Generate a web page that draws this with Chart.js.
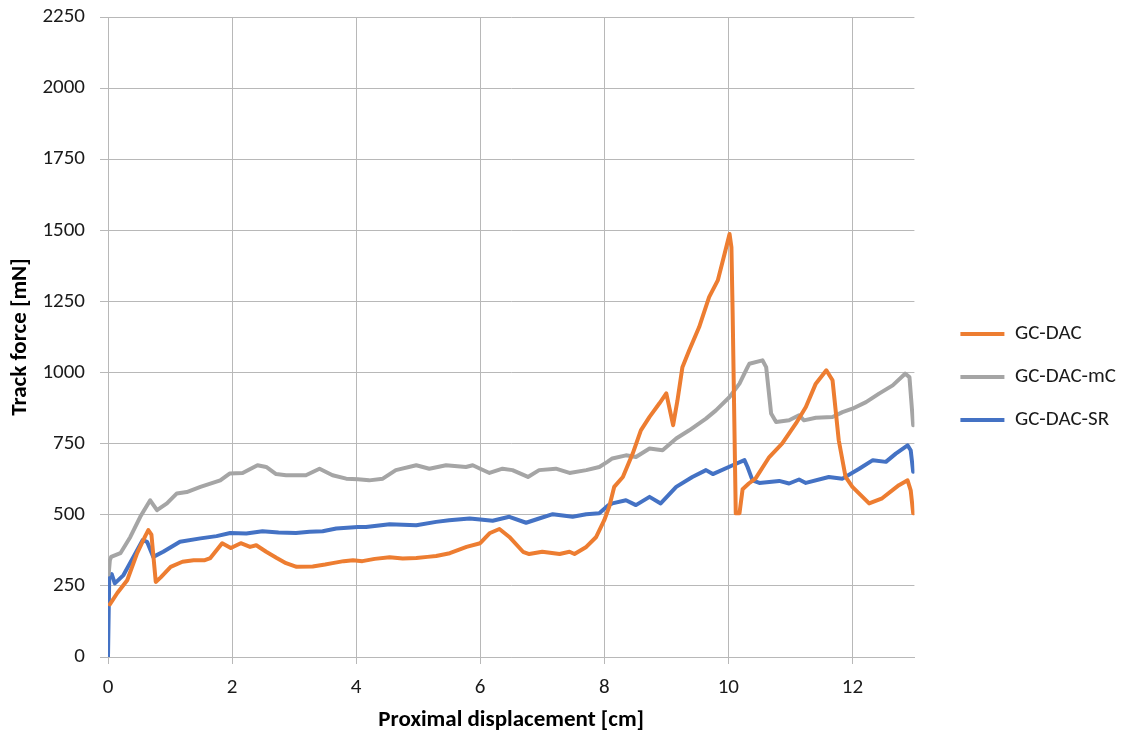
<!DOCTYPE html>
<html>
<head>
<meta charset="utf-8">
<script src="https://cdn.jsdelivr.net/npm/chart.js@4"></script>
<style>
  html, body { margin: 0; padding: 0; background: #fff; }
  #wrap { width: 1128px; height: 737px; }
</style>
</head>
<body>
<div id="wrap"><canvas id="chartLine"></canvas></div>
<script>
// displacement [cm] / force [mN]
const dacX = [0.03, 0.15, 0.31, 0.47, 0.6, 0.65, 0.7, 0.77, 0.85, 1.01, 1.2, 1.38, 1.55, 1.65, 1.84, 1.98, 2.14, 2.29, 2.39, 2.55, 2.72, 2.87, 3.04, 3.3, 3.5, 3.62, 3.8, 3.95, 4.1, 4.3, 4.54, 4.75, 4.97, 5.15, 5.29, 5.51, 5.78, 6.0, 6.15, 6.31, 6.47, 6.69, 6.79, 7.0, 7.28, 7.44, 7.52, 7.71, 7.87, 8.0, 8.08, 8.16, 8.3, 8.46, 8.59, 8.73, 8.89, 9.0, 9.11, 9.18, 9.26, 9.37, 9.53, 9.69, 9.83, 9.94, 10.02, 10.05, 10.07, 10.12, 10.18, 10.23, 10.33, 10.44, 10.66, 10.87, 11.09, 11.25, 11.41, 11.58, 11.68, 11.78, 11.89, 12.0, 12.27, 12.48, 12.75, 12.89, 12.94, 12.98];
const dacY = [185, 225, 270, 365, 425, 446, 430, 264, 280, 317, 335, 340, 340, 348, 400, 383, 400, 387, 393, 370, 348, 330, 317, 318, 325, 330, 337, 340, 337, 345, 351, 346, 348, 352, 355, 365, 387, 400, 435, 450, 422, 370, 362, 370, 362, 370, 362, 387, 422, 481, 528, 598, 633, 716, 797, 844, 892, 927, 815, 902, 1019, 1078, 1160, 1265, 1324, 1418, 1487, 1440, 1207, 505, 505, 590, 610, 628, 703, 751, 821, 879, 961, 1008, 973, 762, 633, 598, 540, 558, 604, 621, 586, 505];

const mcX = [0.01, 0.03, 0.05, 0.2, 0.36, 0.52, 0.68, 0.79, 0.95, 1.11, 1.27, 1.49, 1.81, 1.96, 2.17, 2.41, 2.55, 2.71, 2.87, 3.19, 3.41, 3.62, 3.84, 4.03, 4.21, 4.43, 4.64, 4.97, 5.18, 5.45, 5.77, 5.88, 6.0, 6.15, 6.36, 6.52, 6.77, 6.95, 7.22, 7.44, 7.71, 7.92, 8.05, 8.13, 8.35, 8.51, 8.73, 8.94, 9.16, 9.37, 9.64, 9.8, 10.02, 10.18, 10.31, 10.34, 10.55, 10.61, 10.69, 10.77, 10.98, 11.14, 11.22, 11.41, 11.68, 11.84, 12.0, 12.22, 12.43, 12.65, 12.85, 12.92, 12.98];
const mcY = [290, 340, 352, 365, 422, 493, 551, 516, 540, 575, 580, 598, 621, 645, 647, 674, 668, 643, 639, 639, 662, 639, 627, 625, 621, 627, 657, 674, 662, 674, 668, 674, 662, 647, 662, 657, 633, 657, 662, 647, 657, 668, 686, 698, 709, 703, 733, 727, 768, 797, 838, 867, 914, 961, 1019, 1031, 1043, 1019, 856, 826, 832, 850, 832, 841, 844, 861, 873, 896, 926, 955, 996, 984, 815];

const srX = [0, 0.02, 0.06, 0.11, 0.25, 0.41, 0.56, 0.63, 0.73, 0.89, 1.16, 1.49, 1.75, 1.97, 2.23, 2.49, 2.75, 3.03, 3.25, 3.46, 3.68, 4.03, 4.16, 4.54, 4.97, 5.29, 5.5, 5.83, 6.0, 6.2, 6.47, 6.74, 6.95, 7.17, 7.49, 7.71, 7.92, 8.07, 8.13, 8.35, 8.51, 8.73, 8.91, 9.16, 9.42, 9.64, 9.75, 10.07, 10.26, 10.31, 10.39, 10.5, 10.82, 10.98, 11.14, 11.25, 11.62, 11.84, 12.11, 12.33, 12.54, 12.7, 12.89, 12.94, 12.98];
const srY = [0, 282, 291, 259, 288, 352, 411, 405, 352, 370, 405, 417, 425, 436, 434, 442, 438, 436, 440, 442, 452, 457, 457, 467, 463, 475, 481, 487, 483, 479, 493, 472, 487, 502, 493, 502, 505, 534, 540, 551, 534, 563, 540, 598, 633, 657, 643, 674, 692, 668, 621, 612, 619, 610, 624, 612, 633, 627, 662, 692, 686, 715, 744, 727, 651];

const seriesNames = ["GC-DAC", "GC-DAC-mC", "GC-DAC-SR"];

const FONT = 'Carlito, Lato, sans-serif';

function toPoints(xs, ys) {
  return xs.map((x, i) => ({ x: x, y: ys[i] }));
}

function lineSet(label, xs, ys, color) {
  return {
    label: label,
    data: toPoints(xs, ys),
    borderColor: color,
    backgroundColor: color,
    borderWidth: 4,
    pointRadius: 0,
    tension: 0,
    borderJoinStyle: "round",
    borderCapStyle: "round",
  };
}

const data = {
  datasets: [
    lineSet(seriesNames[0], dacX, dacY, "#ED7D31"),
    lineSet(seriesNames[1], mcX, mcY, "#A5A5A5"),
    lineSet(seriesNames[2], srX, srY, "#4472C4"),
  ],
};

const gridColor = "#b8b8b8";

const configLineChart = {
  type: "line",
  data,
  options: {
    responsive: true,
    maintainAspectRatio: false,
    animation: false,
    layout: { padding: { top: 17, right: 2, bottom: 0, left: 0 } },
    plugins: {
      tooltip: { enabled: false },
      legend: {
        position: "right",
        align: "center",
        labels: {
          usePointStyle: true,
          pointStyle: "line",
          pointStyleWidth: 44,
          padding: 22,
          color: "#1a1a1a",
          font: { family: FONT, size: 21 },
        },
      },
    },
    scales: {
      x: {
        type: "linear",
        min: 0,
        max: 13,
        afterFit: (s) => { s.height = 80; },
        ticks: {
          stepSize: 2,
          includeBounds: false,
          padding: 11,
          color: "#1a1a1a",
          font: { family: FONT, size: 21 },
        },
        grid: { color: gridColor, tickLength: 7 },
        border: { color: gridColor },
        title: {
          display: true,
          text: "Proximal displacement [cm]",
          color: "#000",
          font: { family: FONT, size: 23, weight: "bold" },
          padding: { top: 0, bottom: 3 },
        },
      },
      y: {
        min: 0,
        max: 2250,
        afterFit: (s) => { s.width = 108; s.paddingTop = 0; s.paddingBottom = 0; },
        ticks: {
          stepSize: 250,
          padding: 15,
          format: { useGrouping: false },
          color: "#1a1a1a",
          font: { family: FONT, size: 21 },
        },
        grid: { color: gridColor, tickLength: 8 },
        border: { color: gridColor },
        title: {
          display: true,
          text: "Track force [mN]",
          color: "#000",
          font: { family: FONT, size: 23, weight: "bold" },
          padding: { top: 6, bottom: 0 },
        },
      },
      // empty axis, only keeps a gap between plot and legend
      gap: {
        position: "right",
        display: true,
        afterFit: (s) => { s.width = 24; s.paddingTop = 0; s.paddingBottom = 0; },
        ticks: { display: false },
        grid: { display: false },
        border: { display: false },
      },
    },
  },
};

var chartLine = new Chart(document.getElementById("chartLine"), configLineChart);
</script>
</body>
</html>
